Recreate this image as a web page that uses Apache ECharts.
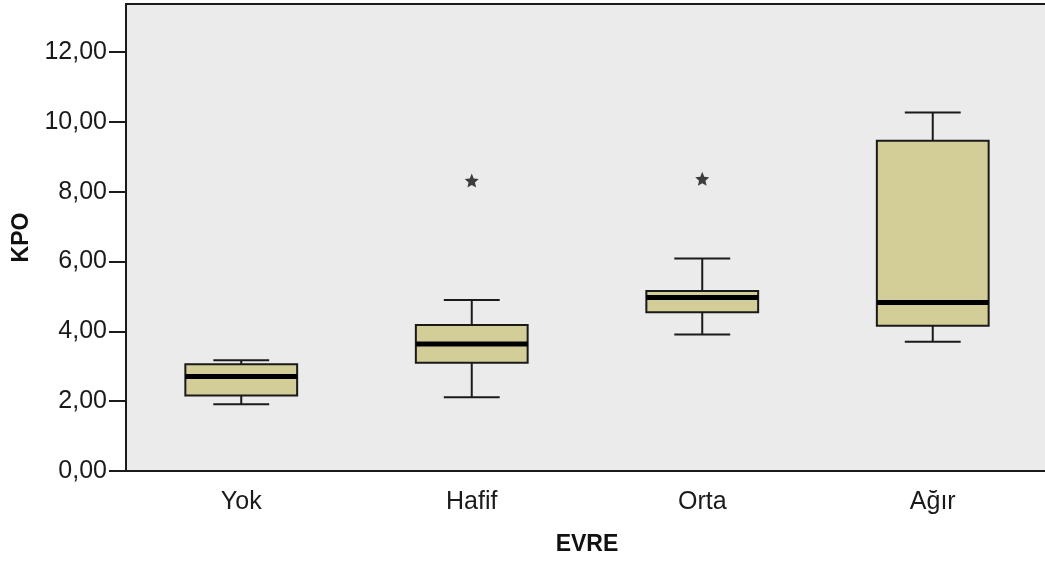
<!DOCTYPE html>
<html><head><meta charset="utf-8">
<script src="https://cdn.jsdelivr.net/npm/echarts@6/dist/echarts.min.js"></script>
<style>html,body{margin:0;padding:0;background:#fff}#c{width:1045px;height:563px}</style>
</head><body><div id="c"></div>
<script>
const categories = ['Yok', 'Hafif', 'Orta', 'Ağır'];
// [whiskerLow, Q1, median, Q3, whiskerHigh]
const boxValues = [
  [1.91, 2.16, 2.71, 3.06, 3.17],
  [2.11, 3.10, 3.64, 4.18, 4.90],
  [3.91, 4.55, 4.97, 5.16, 6.09],
  [3.70, 4.16, 4.83, 9.46, 10.27]
];
// [categoryIndex, value]
const outliers = [[1, 8.32], [2, 8.37]];
const yTicks = [0, 2, 4, 6, 8, 10, 12];

// five-point star symbol shape
function starPath() {
  let d = '';
  for (let k = 0; k < 10; k++) {
    const r = k % 2 === 0 ? 10 : 4.6;
    const a = -Math.PI / 2 + k * Math.PI / 5;
    d += (k === 0 ? 'M' : 'L') + (r * Math.cos(a)).toFixed(2) + ',' + (r * Math.sin(a)).toFixed(2);
  }
  return 'path://' + d + 'Z';
}

const chart = echarts.init(document.getElementById('c'));
const boxData = boxValues.map((v, i) => [i].concat(v));
const font = 'Liberation Sans, Arial, sans-serif';

chart.setOption({
  animation: false,
  grid: { left: 126, top: 4, right: -3, bottom: 92, outerBoundsMode: 'none', show: true, backgroundColor: '#EBEBEB', borderColor: '#1a1a1a', borderWidth: 2 },
  xAxis: {
    type: 'category', data: categories, boundaryGap: true,
    name: 'EVRE', nameLocation: 'middle', nameGap: 62,
    nameTextStyle: { fontFamily: font, fontSize: 23, fontWeight: 'bold', color: '#111' },
    axisLine: { lineStyle: { color: '#1a1a1a', width: 2 } },
    axisTick: { alignWithLabel: true, length: 17, lineStyle: { color: '#1a1a1a', width: 2 } },
    axisLabel: { fontFamily: font, fontSize: 25, color: '#1a1a1a', margin: 19 }
  },
  yAxis: {
    type: 'value', min: 0, max: 13.38,
    name: 'KPO', nameLocation: 'middle', nameGap: 90, nameRotate: 90,
    nameTextStyle: { fontFamily: font, fontSize: 23, fontWeight: 'bold', color: '#111' },
    splitLine: { show: false },
    axisLine: { show: true, lineStyle: { color: '#1a1a1a', width: 2 } },
    axisTick: { show: true, length: 17, customValues: yTicks, lineStyle: { color: '#1a1a1a', width: 2 } },
    axisLabel: { fontFamily: font, fontSize: 25, color: '#1a1a1a', margin: 19, customValues: yTicks,
      formatter: v => v.toFixed(2).replace('.', ',') }
  },
  series: [
    {
      type: 'custom', data: boxData,
      encode: { x: 0, y: [1, 2, 3, 4, 5] },
      renderItem: function (params, api) {
        const i = api.value(0);
        const band = api.size([1, 0])[0];
        const bw = band * 0.485, cw = bw / 2;
        const pLow = api.coord([i, api.value(1)]);
        const pQ1 = api.coord([i, api.value(2)]);
        const pMed = api.coord([i, api.value(3)]);
        const pQ3 = api.coord([i, api.value(4)]);
        const pHigh = api.coord([i, api.value(5)]);
        const x = pQ1[0];
        const ls = { stroke: '#1a1a1a', lineWidth: 2 };
        return { type: 'group', children: [
          { type: 'line', shape: { x1: x, y1: pHigh[1], x2: x, y2: pQ3[1] }, style: ls },
          { type: 'line', shape: { x1: x, y1: pQ1[1], x2: x, y2: pLow[1] }, style: ls },
          { type: 'line', shape: { x1: x - cw / 2, y1: pHigh[1], x2: x + cw / 2, y2: pHigh[1] }, style: ls },
          { type: 'line', shape: { x1: x - cw / 2, y1: pLow[1], x2: x + cw / 2, y2: pLow[1] }, style: ls },
          { type: 'rect', shape: { x: x - bw / 2, y: pQ3[1], width: bw, height: pQ1[1] - pQ3[1] },
            style: { fill: '#D3CE97', stroke: '#1a1a1a', lineWidth: 2 } },
          { type: 'line', shape: { x1: x - bw / 2, y1: pMed[1], x2: x + bw / 2, y2: pMed[1] }, style: { stroke: '#000', lineWidth: 5 } }
        ]};
      }
    },
    {
      type: 'scatter', data: outliers,
      symbol: starPath(), symbolSize: 14,
      itemStyle: { color: '#111' }
    }
  ]
});
</script></body></html>
